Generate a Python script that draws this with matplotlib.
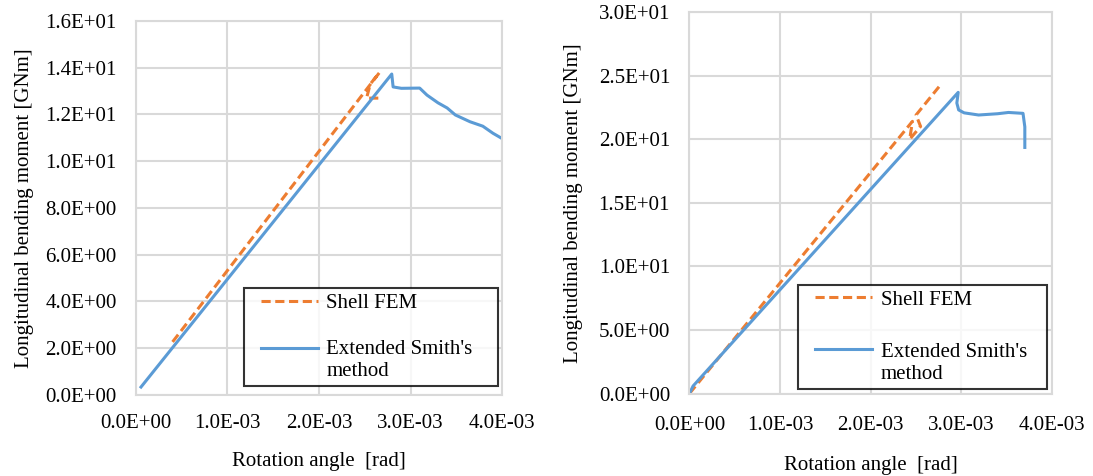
import matplotlib
matplotlib.use("Agg")
import matplotlib.pyplot as plt
from matplotlib.ticker import FuncFormatter, MultipleLocator
from matplotlib.legend_handler import HandlerLine2D

plt.rcParams['font.family'] = ['Liberation Serif', 'DejaVu Serif']
plt.rcParams['font.size'] = 15

# ---- Left chart data (rotation angle [rad], moment [GNm]) ----
left_fem_x = [0.40e-3, 2.66e-3, 2.56e-3, 2.52e-3, 2.69e-3]
left_fem_y = [2.27, 13.79, 13.30, 12.70, 12.70]
left_smith_x = [0.055e-3, 2.795e-3, 2.81e-3, 2.90e-3, 3.10e-3, 3.18e-3, 3.30e-3,
                3.40e-3, 3.49e-3, 3.65e-3, 3.79e-3, 3.90e-3, 4.01e-3]
left_smith_y = [0.34, 13.73, 13.18, 13.12, 13.13, 12.83, 12.50,
                12.28, 11.98, 11.69, 11.50, 11.20, 10.95]

# ---- Right chart data ----
right_fem_x = [0.0, 2.46e-3, 2.43e-3, 2.55e-3, 2.50e-3, 2.753e-3]
right_fem_y = [0.0, 21.4, 20.0, 21.0, 21.9, 24.12]
right_smith_x = [0.0, 0.04e-3, 2.965e-3, 2.95e-3, 2.97e-3, 3.03e-3, 3.19e-3,
                 3.40e-3, 3.52e-3, 3.68e-3, 3.70e-3, 3.70e-3]
right_smith_y = [0.0, 0.59, 23.68, 22.84, 22.3, 22.07, 21.90,
                 22.0, 22.1, 22.03, 20.97, 19.35]

series_labels = ["Shell FEM", "Extended Smith's\nmethod"]
x_label = "Rotation angle  [rad]"
y_label = "Longitudinal bending moment [GNm]"

ORANGE = '#ED7D31'
BLUE = '#5B9BD5'
GRID = '#d9d9d9'


class ShiftedHandler(HandlerLine2D):
    """Legend line indented from the frame and optionally raised."""
    def __init__(self, indent=8.6, raise_pt=0.0, **kw):
        super().__init__(**kw)
        self.indent = indent
        self.raise_pt = raise_pt

    def create_artists(self, legend, orig_handle, xdescent, ydescent,
                       width, height, fontsize, trans):
        return super().create_artists(legend, orig_handle,
                                      xdescent - self.indent,
                                      ydescent - 2 * self.raise_pt,
                                      width - self.indent, height,
                                      fontsize, trans)


fig = plt.figure(figsize=(10.93, 4.76), dpi=100)
ax1 = fig.add_axes([0.1244, 0.1702, 0.3349, 0.7857])
ax2 = fig.add_axes([0.6308, 0.1733, 0.3317, 0.8015])

fmt = FuncFormatter(lambda v, p: f"{v:.1E}")


def style(ax, lines, ymax, ystep, legend_box, xlabelpad, xpad, ylabelpad,
          labelspacing, raise_pt):
    ax.set_xlim(0, 4e-3)
    ax.set_ylim(0, ymax)
    ax.xaxis.set_major_locator(MultipleLocator(1e-3))
    ax.yaxis.set_major_locator(MultipleLocator(ystep))
    ax.xaxis.set_major_formatter(fmt)
    ax.yaxis.set_major_formatter(fmt)
    ax.grid(True, color=GRID, linewidth=1.5)
    ax.set_axisbelow(True)
    for s in ax.spines.values():
        s.set_color(GRID)
        s.set_linewidth(1.5)
    ax.tick_params(length=0, labelsize=15)
    ax.tick_params(axis='y', pad=14)
    ax.tick_params(axis='x', pad=xpad)
    ax.set_xlabel(x_label, fontsize=15, labelpad=xlabelpad)
    ax.set_ylabel(y_label, fontsize=15, labelpad=ylabelpad)
    leg = ax.legend(handles=lines, loc='lower left', bbox_to_anchor=legend_box,
                    mode='expand', frameon=True, fancybox=False,
                    edgecolor='black', handlelength=3.3, handletextpad=0.4,
                    labelspacing=labelspacing, borderpad=0.25, borderaxespad=0,
                    fontsize=15,
                    handler_map={lines[0]: ShiftedHandler(indent=8.6),
                                 lines[1]: ShiftedHandler(indent=8.6,
                                                          raise_pt=raise_pt)})
    leg.get_frame().set_linewidth(1.5)


l1, = ax1.plot(left_fem_x, left_fem_y, color=ORANGE, linestyle=(0, (3, 1.5)),
               linewidth=2.2, label=series_labels[0])
l2, = ax1.plot(left_smith_x, left_smith_y, color=BLUE, linewidth=2.2,
               label=series_labels[1])
style(ax1, [l1, l2], 16, 2, (0.295, 0.024, 0.694, 0.267), 14, 13.5, 8, 1.3, 9)

r1, = ax2.plot(right_fem_x, right_fem_y, color=ORANGE, linestyle=(0, (3, 1.5)),
               linewidth=2.2, label=series_labels[0])
r2, = ax2.plot(right_smith_x, right_smith_y, color=BLUE, linewidth=2.2,
               label=series_labels[1])
style(ax2, [r1, r2], 30, 5, (0.30, 0.012, 0.687, 0.28), 15, 16.5, 11, 1.6, 10)

fig.savefig('out.png', dpi=100)
